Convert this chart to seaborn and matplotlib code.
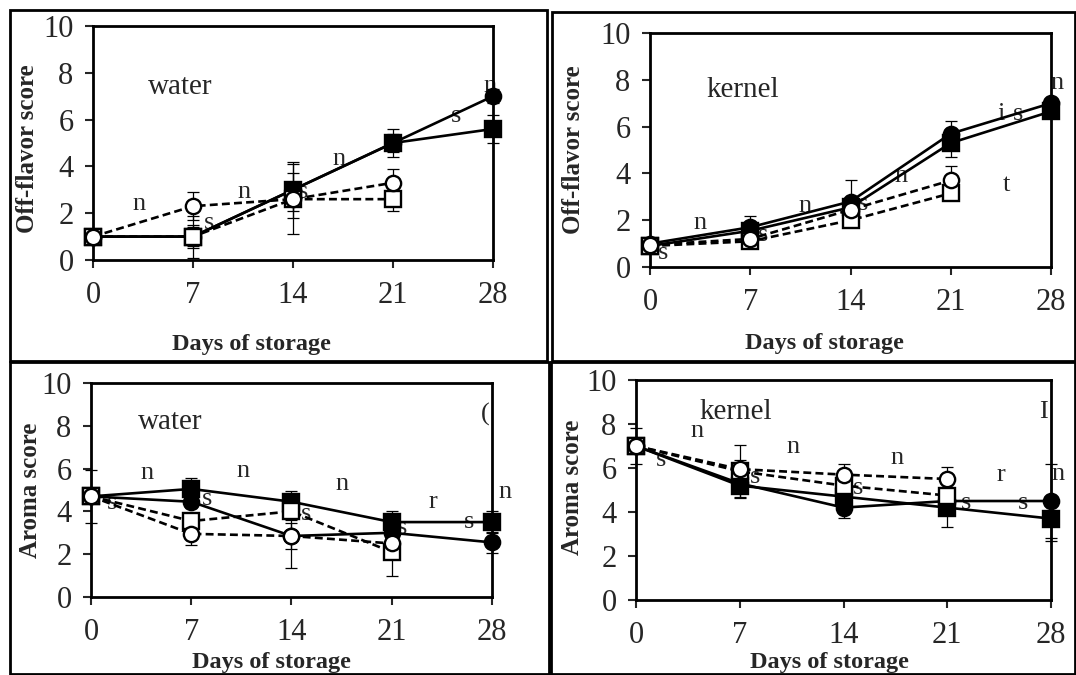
import matplotlib
matplotlib.use("Agg")
import matplotlib.pyplot as plt
import seaborn as sns

# storage days on the x axis
days = [0, 7, 14, 21, 28]

# Off-flavor score, water treatment
off_water_fc = [1.0, 1.0, 3.0, 5.0, 7.0]
off_water_fs = [1.0, 1.0, 3.0, 5.0, 5.6]
off_water_os = [1.0, 1.0, 2.6, 2.6]
off_water_oc = [1.0, 2.3, 2.6, 3.3]
off_water_fc_err = [0.2, 0.9, 1.2, 0.6, 0.3]
off_water_fs_err = [0.2, 0.5, 0.7, 0.4, 0.6]
off_water_os_err = [0.2, 0.4, 1.5, 0.5]
off_water_oc_err = [0.2, 0.6, 0.5, 0.6]

# Off-flavor score, kernel treatment
off_kernel_fc = [1.0, 1.7, 2.8, 5.7, 7.0]
off_kernel_fs = [0.9, 1.55, 2.55, 5.3, 6.65]
off_kernel_os = [0.9, 1.1, 2.0, 3.15]
off_kernel_oc = [0.95, 1.2, 2.45, 3.7]
off_kernel_fc_err = [0.1, 0.5, 0.9, 0.55, 0.2]
off_kernel_fs_err = [0.1, 0.3, 0.3, 0.6, 0.2]
off_kernel_os_err = [0.1, 0.2, 0.3, 0.3]
off_kernel_oc_err = [0.1, 0.2, 0.3, 0.6]

# Aroma score, water treatment
aroma_water_fc = [4.7, 4.45, 2.85, 3.0, 2.55]
aroma_water_fs = [4.7, 5.05, 4.45, 3.5, 3.5]
aroma_water_os = [4.7, 3.55, 4.0, 2.1]
aroma_water_oc = [4.7, 2.95, 2.85, 2.5]
aroma_water_fc_err = [0.3, 0.3, 1.5, 0.4, 0.5]
aroma_water_fs_err = [1.25, 0.5, 0.5, 0.5, 0.5]
aroma_water_os_err = [0.3, 0.3, 0.4, 1.1]
aroma_water_oc_err = [0.3, 0.5, 0.6, 0.4]

# Aroma score, kernel treatment
aroma_kernel_fc = [7.0, 5.3, 4.2, 4.5, 4.5]
aroma_kernel_fs = [7.0, 5.2, 4.7, 4.2, 3.7]
aroma_kernel_os = [7.0, 5.85, 5.2, 4.75]
aroma_kernel_oc = [7.0, 5.95, 5.7, 5.5]
aroma_kernel_fc_err = [0.2, 0.4, 0.45, 0.3, 1.7]
aroma_kernel_fs_err = [0.2, 0.5, 0.4, 0.9, 1.0]
aroma_kernel_os_err = [0.8, 1.2, 0.4, 0.4]
aroma_kernel_oc_err = [0.2, 0.4, 0.5, 0.55]

# leftover letters of the significance marks (cut off in the original)
off_water_notes = [(3.2, 2.4, "n"), (8.1, 1.6, "s"), (10.6, 2.9, "n"), (14.7, 2.9, "s"),
                   (17.2, 4.3, "n"), (25.4, 6.15, "s"), (27.8, 7.45, "n")]
off_kernel_notes = [(3.5, 1.9, "n"), (0.9, 0.6, "s"), (10.8, 2.6, "n"), (7.9, 1.35, "s"),
                    (14.9, 2.7, "s"), (17.5, 3.9, "n"), (24.9, 3.5, "t"),
                    (24.5, 6.55, "i"), (25.7, 6.55, "s"), (28.4, 7.85, "n")]
aroma_water_notes = [(3.9, 5.8, "n"), (1.5, 4.4, "s"), (8.1, 4.6, "s"), (10.6, 5.9, "n"),
                     (15.0, 3.9, "s"), (17.5, 5.3, "n"), (21.7, 3.2, "s"), (23.9, 4.45, "r"),
                     (26.4, 3.5, "s"), (28.9, 4.9, "n"), (27.5, 8.55, "(")]
aroma_kernel_notes = [(4.1, 7.7, "n"), (1.7, 6.35, "s"), (8.0, 5.6, "s"), (10.6, 6.95, "n"),
                      (15.0, 5.1, "s"), (17.6, 6.45, "n"), (22.3, 4.4, "s"), (24.6, 5.7, "r"),
                      (26.1, 4.4, "s"), (28.5, 5.75, "n"), (27.5, 8.55, "I")]

STYLES = {
    "fc": dict(ls="-", marker="o", mfc="black"),
    "fs": dict(ls="-", marker="s", mfc="black"),
    "os": dict(ls=(0, (3, 1.6)), marker="s", mfc="white"),
    "oc": dict(ls=(0, (3, 1.6)), marker="o", mfc="white"),
}

sns.set_theme(style="ticks")
plt.rcParams['font.family'] = ['Liberation Serif', 'DejaVu Serif']


def draw_panel(ax, curves, errs, notes, label, label_xy, ylabel, xlab_xy, ylab_xy):
    for key in ["fc", "fs", "os", "oc"]:
        y = curves[key]
        x = days[:len(y)]
        st = STYLES[key]
        eb = ax.errorbar(x, y, yerr=errs[key], fmt="none", ecolor="black",
                         elinewidth=0.9, capsize=4, capthick=0.9, zorder=2)
        for art in list(eb.lines[1]) + list(eb.lines[2]):
            art.set_clip_on(False)
        sns.lineplot(x=x, y=y, ax=ax, color="black", linewidth=1.9,
                     linestyle=st["ls"], marker=st["marker"], markersize=11,
                     markerfacecolor=st["mfc"], markeredgecolor="black",
                     markeredgewidth=1.7, clip_on=False, zorder=3)
    for nx, ny, t in notes:
        ax.text(nx, ny, t, fontsize=19, ha="center", va="center", zorder=1)
    ax.text(label_xy[0], label_xy[1], label, fontsize=21, ha="center", va="center")

    ax.set_xlim(0, 28)
    ax.set_ylim(0, 10)
    ax.set_xticks(days)
    ax.set_yticks(range(0, 11, 2))
    ax.tick_params(direction="out", length=6, width=1.5, labelsize=22)
    ax.tick_params(axis="x", pad=9)
    ax.tick_params(axis="y", pad=8)
    for sp in ax.spines.values():
        sp.set_visible(True)
        sp.set_linewidth(2)
        sp.set_color("black")
    ax.set_xlabel("Days of storage", fontsize=17.5, fontweight="bold", va="center")
    ax.set_ylabel(ylabel, fontsize=18, fontweight="bold", va="center")
    ax.xaxis.set_label_coords(*xlab_xy)
    ax.yaxis.set_label_coords(*ylab_xy)


fig = plt.figure(figsize=(10.76, 6.75), dpi=100)

# panel frames as in the original figure
for (x0, y0, x1, y1) in [(10, 10, 547, 361), (552, 12, 1075, 361),
                         (10, 362, 549, 674), (551, 362, 1075, 674)]:
    fig.add_artist(plt.Rectangle((x0 / 1076, 1 - y1 / 675), (x1 - x0) / 1076,
                                 (y1 - y0) / 675, fill=False, lw=2, ec="black",
                                 transform=fig.transFigure))

ax1 = fig.add_axes([0.0864, 0.6148, 0.3718, 0.3467])
ax2 = fig.add_axes([0.6041, 0.6044, 0.3727, 0.3467])
ax3 = fig.add_axes([0.0846, 0.1156, 0.3726, 0.3170])
ax4 = fig.add_axes([0.5911, 0.1111, 0.3857, 0.3259])

draw_panel(ax1,
           dict(fc=off_water_fc, fs=off_water_fs, os=off_water_os, oc=off_water_oc),
           dict(fc=off_water_fc_err, fs=off_water_fs_err, os=off_water_os_err, oc=off_water_oc_err),
           off_water_notes, "water", (6.1, 7.4), "Off-flavor score",
           (0.395, -0.363), (-0.1625, 0.474))
draw_panel(ax2,
           dict(fc=off_kernel_fc, fs=off_kernel_fs, os=off_kernel_os, oc=off_kernel_oc),
           dict(fc=off_kernel_fc_err, fs=off_kernel_fs_err, os=off_kernel_os_err, oc=off_kernel_oc_err),
           off_kernel_notes, "kernel", (6.5, 7.55), "Off-flavor score",
           (0.434, -0.325), (-0.192, 0.5))
draw_panel(ax3,
           dict(fc=aroma_water_fc, fs=aroma_water_fs, os=aroma_water_os, oc=aroma_water_oc),
           dict(fc=aroma_water_fc_err, fs=aroma_water_fs_err, os=aroma_water_os_err, oc=aroma_water_oc_err),
           aroma_water_notes, "water", (5.5, 8.2), "Aroma score",
           (0.451, -0.304), (-0.152, 0.5))
draw_panel(ax4,
           dict(fc=aroma_kernel_fc, fs=aroma_kernel_fs, os=aroma_kernel_os, oc=aroma_kernel_oc),
           dict(fc=aroma_kernel_fc_err, fs=aroma_kernel_fs_err, os=aroma_kernel_os_err, oc=aroma_kernel_oc_err),
           aroma_kernel_notes, "kernel", (6.7, 8.55), "Aroma score",
           (0.465, -0.282), (-0.154, 0.514))

fig.savefig("out.png", dpi=100)
